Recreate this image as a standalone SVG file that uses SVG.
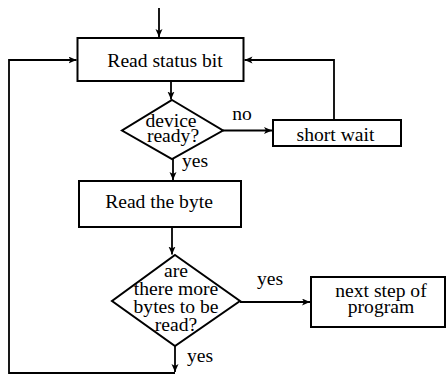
<svg xmlns="http://www.w3.org/2000/svg" width="446" height="375" viewBox="0 0 446 375">
  <style>
    .box { fill: #fff; stroke: #000; stroke-width: 2; }
    .lbl { font-family: "Liberation Serif", "Times New Roman", serif; font-size: 19.6px; fill: #000; }
    .mid { text-anchor: middle; }
    .edge { fill: none; stroke: #000; stroke-width: 1.8; }
    .arr { marker-end: url(#head); }
  </style>
  <defs>
    <marker id="head" markerUnits="userSpaceOnUse" markerWidth="10" markerHeight="8" refX="8" refY="3.5" orient="auto">
      <path d="M0,0 L8,3.5 L0,7 L2,3.5 z" fill="#000"/>
    </marker>
  </defs>

  <g id="connectors">
    <path class="edge arr" d="M159,8 V37"/>
    <path class="edge arr" d="M171,81 V99.5"/>
    <path class="edge arr" d="M173,159 V180"/>
    <path class="edge arr" d="M172,227 V254.5"/>
    <path class="edge arr" d="M175,346 V372"/>
    <path class="edge arr" d="M175,373 H9 V60 H76.5"/>
    <path class="edge arr" d="M223,130.5 H272"/>
    <path class="edge arr" d="M334,120 V60 H244.5"/>
    <path class="edge arr" d="M240,302 H310"/>
    <text class="lbl mid" x="242" y="120">no</text>
    <text class="lbl" x="182" y="167">yes</text>
    <text class="lbl" x="257" y="285">yes</text>
    <text class="lbl" x="187" y="362">yes</text>
  </g>

  <g id="read-status">
    <rect class="box" x="77.5" y="38" width="166" height="43"/>
    <text class="lbl mid" x="165" y="67">Read status bit</text>
  </g>

  <g id="device-ready">
    <polygon class="box" points="172,100 223,130.5 172,159 122,130.5"/>
    <text class="lbl mid" x="171" y="127">device</text>
    <text class="lbl mid" x="173" y="142">ready?</text>
  </g>

  <g id="short-wait">
    <rect class="box" x="273" y="120" width="128" height="26"/>
    <text class="lbl mid" x="335.5" y="141">short wait</text>
  </g>

  <g id="read-byte">
    <rect class="box" x="79" y="181" width="162" height="46"/>
    <text class="lbl mid" x="159" y="208">Read the byte</text>
  </g>

  <g id="more-bytes">
    <polygon class="box" points="175,255 240,301 175,346 112,301"/>
    <text class="lbl mid" x="176" y="277">are</text>
    <text class="lbl mid" x="176" y="295">there more</text>
    <text class="lbl mid" x="176" y="313">bytes to be</text>
    <text class="lbl mid" x="176" y="331">read?</text>
  </g>

  <g id="next-step">
    <rect class="box" x="311" y="277" width="134" height="50"/>
    <text class="lbl mid" x="381" y="297">next step of</text>
    <text class="lbl mid" x="381" y="313">program</text>
  </g>
</svg>
